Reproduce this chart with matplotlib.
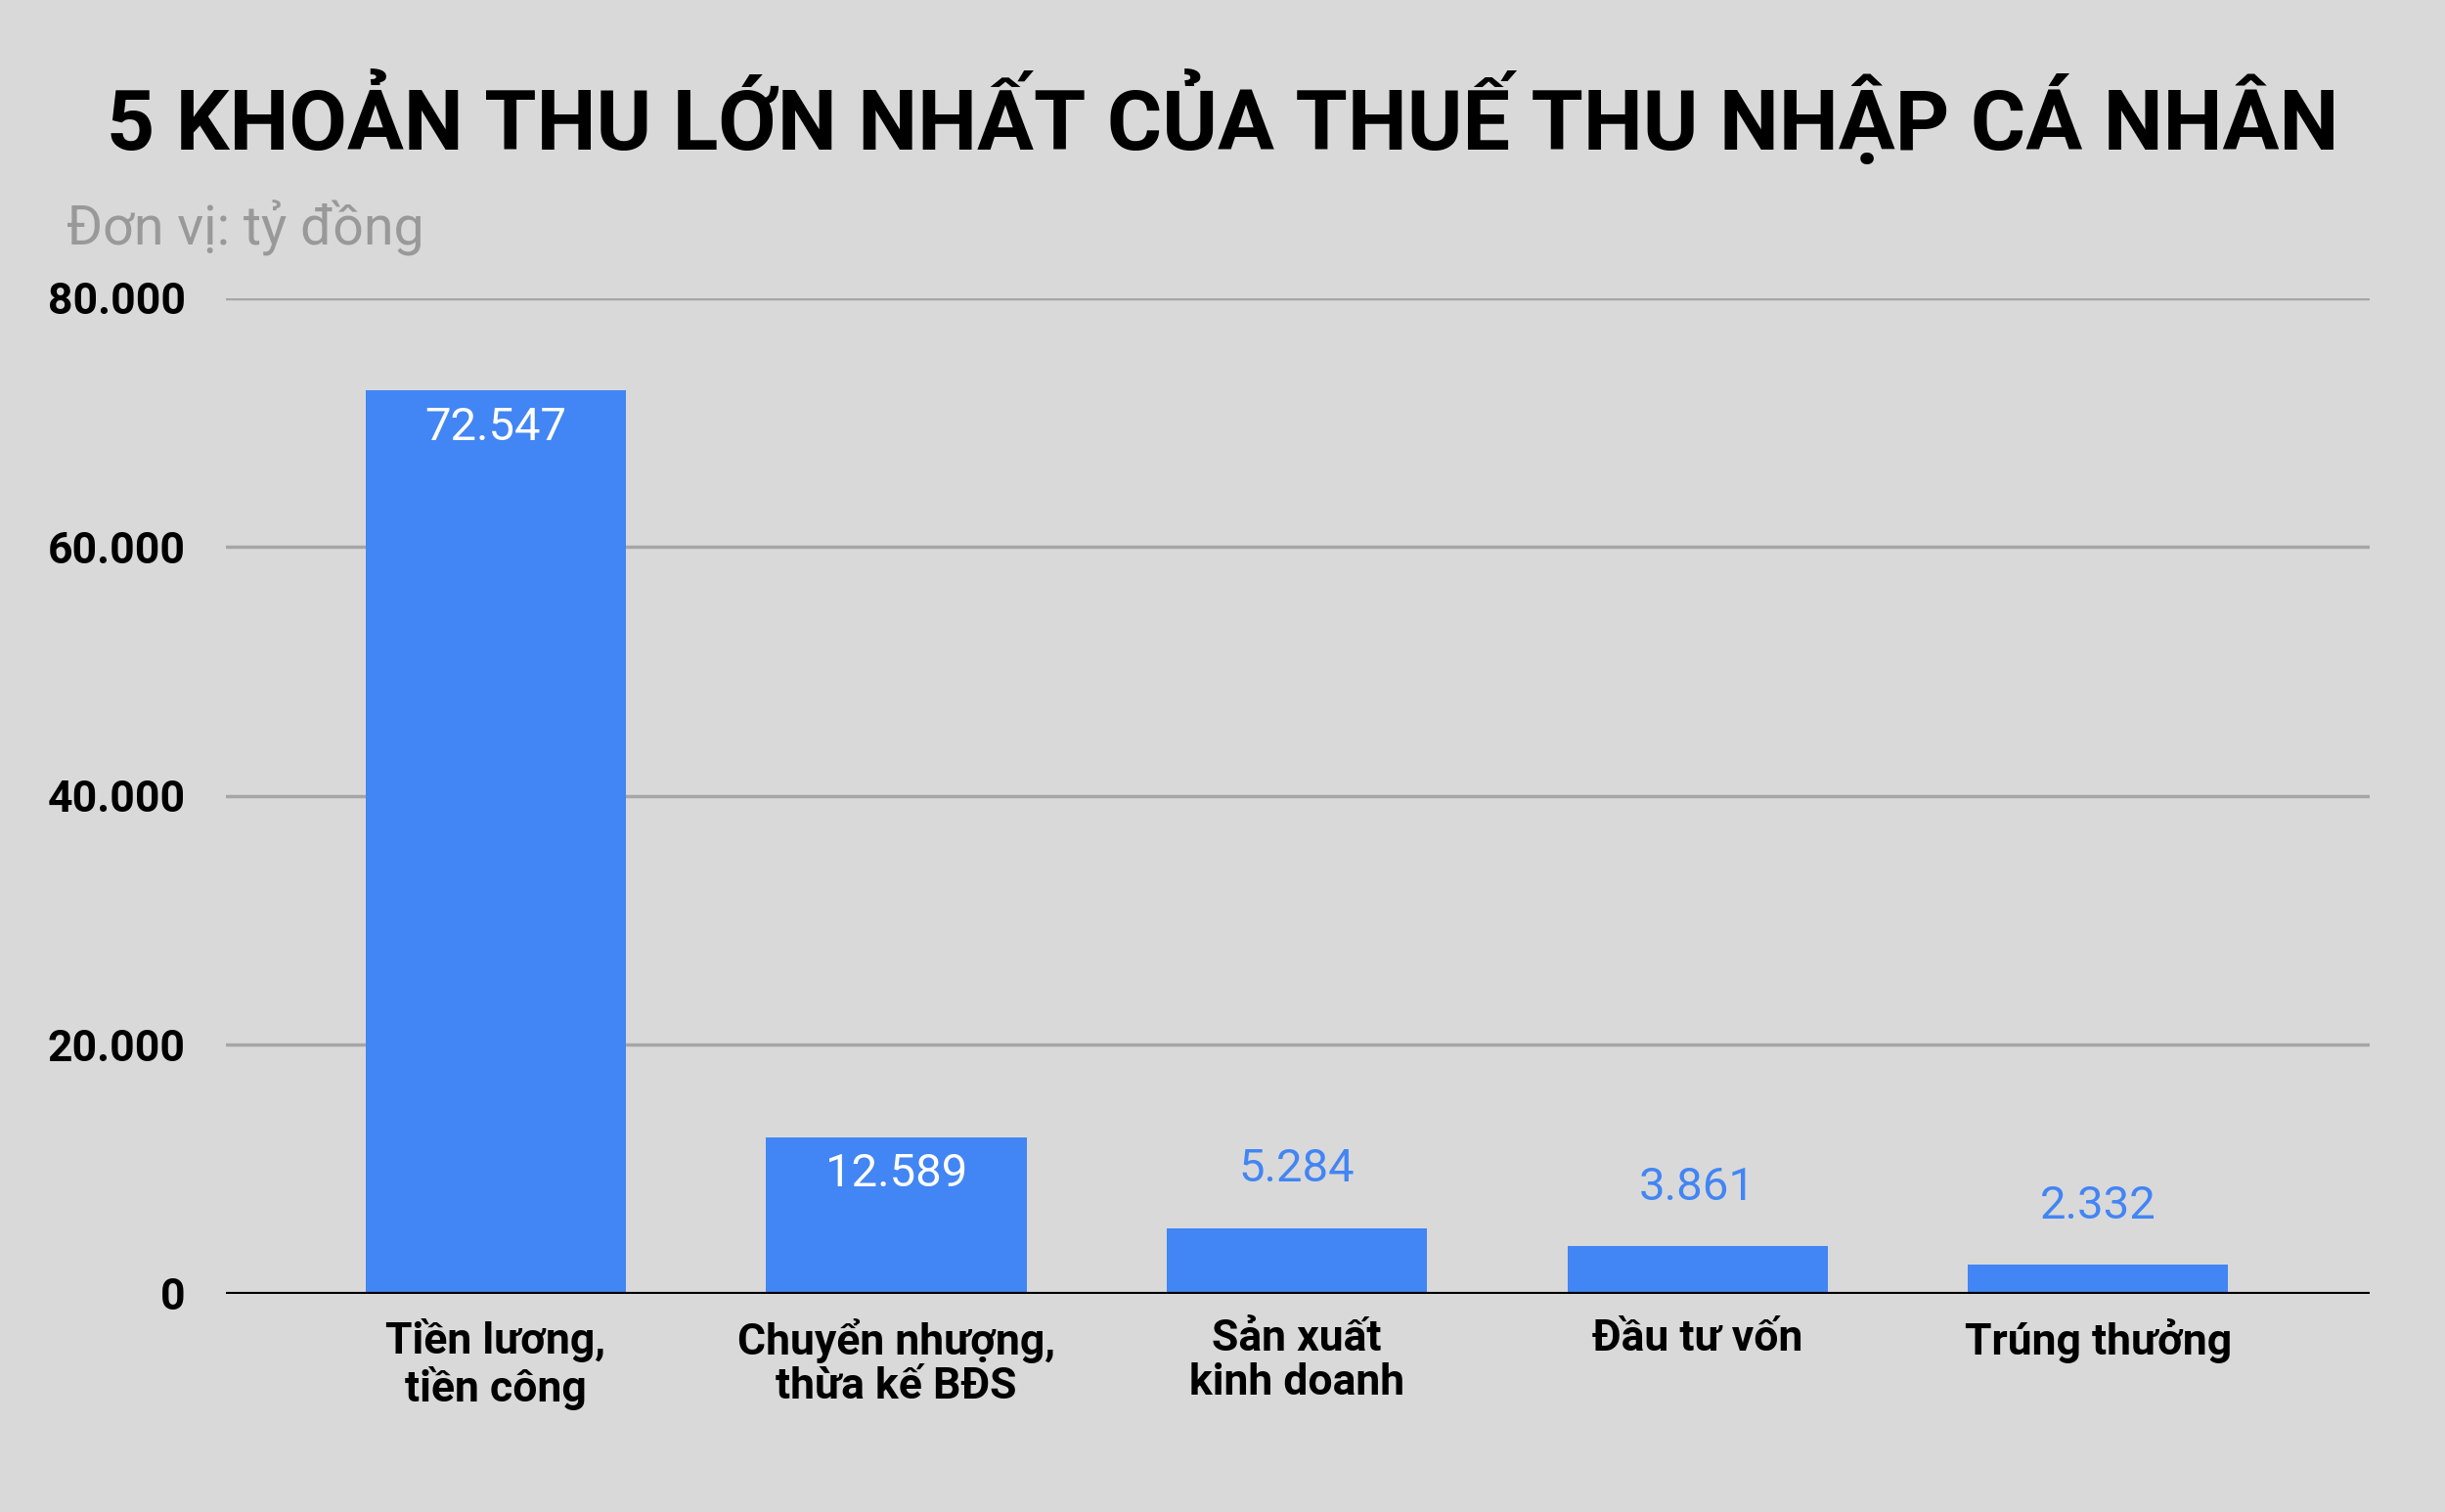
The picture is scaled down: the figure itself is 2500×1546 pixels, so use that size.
import matplotlib.pyplot as plt

categories = ['Tiền lương,\ntiền công', 'Chuyển nhượng,\nthừa kế BĐS', 'Sản xuất\nkinh doanh',
              'Đầu tư vốn', 'Trúng thưởng']
values = [72547, 12589, 5284, 3861, 2332]
value_labels = ['72.547', '12.589', '5.284', '3.861', '2.332']
ticks = [0, 20000, 40000, 60000, 80000]
tick_labels = ['0', '20.000', '40.000', '60.000', '80.000']

plt.rcParams['font.family'] = ['Roboto', 'DejaVu Sans']
bg = '#d9d9d9'
blue = '#4285f4'

fig = plt.figure(figsize=(25, 15.46), dpi=100, facecolor=bg)
ax = fig.add_axes([0.0925, 0.1443, 0.8765, 0.6587], facecolor=bg)

x = range(len(categories))
ax.bar(x, values, width=0.65, color=blue, zorder=3)
for i, v in enumerate(values):
    if v > 10000:
        ax.text(i, v - 1200, value_labels[i], ha='center', va='top', color='white', fontsize=34, zorder=4)
    else:
        ax.text(i, v + 3000, value_labels[i], ha='center', va='bottom', color=blue, fontsize=34, zorder=4)

ax.set_xlim(-0.673, 4.677)
ax.set_ylim(0, 80000)
ax.set_yticks(ticks)
ax.set_yticklabels(tick_labels, fontsize=32, fontweight='bold')
ax.set_xticks(list(x))
ax.set_xticklabels(categories, fontsize=32, fontweight='bold', linespacing=1.1)
ax.tick_params(length=0, pad=18)
ax.tick_params(axis='y', pad=30)
ax.grid(axis='y', color='#a6a6a6', linewidth=2.5, zorder=0)
for s in ax.spines.values():
    s.set_visible(False)
ax.axhline(0, color='black', linewidth=3, zorder=4)

fig.text(0.5, 0.922, '5 KHOẢN THU LỚN NHẤT CỦA THUẾ THU NHẬP CÁ NHÂN', ha='center', va='center',
         fontsize=62, fontweight='bold')
fig.text(0.027, 0.849, 'Đơn vị: tỷ đồng', ha='left', va='center', fontsize=40, color='#999999')

fig.savefig('out.png', dpi=100, facecolor=bg)
